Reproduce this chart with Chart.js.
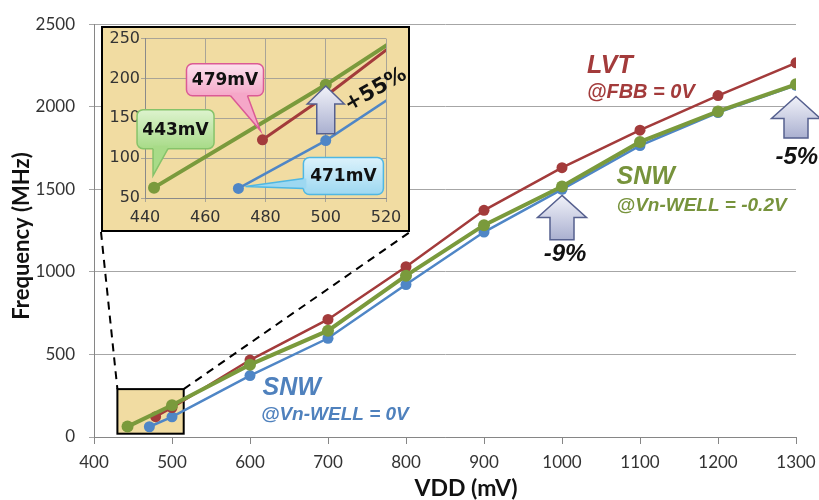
<!DOCTYPE html>
<html>
<head>
<meta charset="utf-8">
<script src="https://cdn.jsdelivr.net/npm/chart.js@4/dist/chart.umd.min.js"></script>
<style>
  body { margin: 0; background: #fff; }
  #wrap { position: relative; width: 819px; height: 500px; }
  #main { position: absolute; left: 0; top: 0; }
  #insetBox {
    position: absolute; left: 101px; top: 26px; width: 309px; height: 206px;
    box-sizing: border-box; border: 2px solid #000; background: #F1DCA2;
  }
  #inset { position: absolute; left: 0; top: 0; }
</style>
</head>
<body>
<div id="wrap">
  <canvas id="main" width="819" height="500"></canvas>
  <div id="insetBox"><canvas id="inset" width="305" height="202"></canvas></div>
</div>
<script>
// VDD (mV) and frequency (MHz) for each curve
const vddLvt = [479, 500, 600, 700, 800, 900, 1000, 1100, 1200, 1300];
const freqLvt = [123, 178, 466, 712, 1031, 1373, 1631, 1858, 2068, 2266];
const vddSnwFbb = [443, 500, 600, 700, 800, 900, 1000, 1100, 1200, 1300];
const freqSnwFbb = [63, 192, 438, 644, 977, 1283, 1517, 1787, 1972, 2136];
const vddSnwZero = [471, 500, 600, 700, 800, 900, 1000, 1100, 1200, 1300];
const freqSnwZero = [62, 122, 372, 598, 923, 1241, 1500, 1765, 1965, 2130];

const mainX = { min: 400, max: 1300, step: 100 };
const mainY = { min: 0, max: 2500, step: 500 };
const insetX = { min: 440, max: 520, step: 20 };
const insetY = { min: 50, max: 250, step: 50 };

const RED = '#A33B3B';
const GREEN = '#7A9A3C';
const BLUE = '#4F86C6';

const insetRect = { left: 101, top: 26, width: 309, height: 206 };

const toPoints = (xs, ys) => xs.map((x, i) => ({ x: x, y: ys[i] }));
const plain = (v) => String(v);

function makeDatasets(radius, widths) {
  return [
    { data: toPoints(vddSnwFbb, freqSnwFbb), borderColor: GREEN, backgroundColor: GREEN,
      borderWidth: widths[0], pointRadius: radius, pointBorderWidth: 0 },
    { data: toPoints(vddLvt, freqLvt), borderColor: RED, backgroundColor: RED,
      borderWidth: widths[1], pointRadius: radius - 0.5, pointBorderWidth: 0 },
    { data: toPoints(vddSnwZero, freqSnwZero), borderColor: BLUE, backgroundColor: BLUE,
      borderWidth: widths[2], pointRadius: radius - 0.5, pointBorderWidth: 0 }
  ];
}

function upArrow(ctx, cx, tipY, baseY, headW, bodyW, headH) {
  const g = ctx.createLinearGradient(0, tipY, 0, baseY);
  g.addColorStop(0, '#F1F2F9');
  g.addColorStop(1, '#AAB0D0');
  ctx.save();
  ctx.beginPath();
  ctx.moveTo(cx, tipY);
  ctx.lineTo(cx + headW / 2, tipY + headH);
  ctx.lineTo(cx + bodyW / 2, tipY + headH);
  ctx.lineTo(cx + bodyW / 2, baseY);
  ctx.lineTo(cx - bodyW / 2, baseY);
  ctx.lineTo(cx - bodyW / 2, tipY + headH);
  ctx.lineTo(cx - headW / 2, tipY + headH);
  ctx.closePath();
  ctx.fillStyle = g;
  ctx.fill();
  ctx.strokeStyle = '#56608F';
  ctx.lineWidth = 1.5;
  ctx.stroke();
  ctx.restore();
}

function roundRect(ctx, x, y, w, h, r) {
  ctx.beginPath();
  ctx.moveTo(x + r, y);
  ctx.arcTo(x + w, y, x + w, y + h, r);
  ctx.arcTo(x + w, y + h, x, y + h, r);
  ctx.arcTo(x, y + h, x, y, r);
  ctx.arcTo(x, y, x + w, y, r);
  ctx.closePath();
}

function callout(ctx, px, py, c) {
  const x = px + c.box[0], y = py + c.box[1], w = c.box[2], h = c.box[3];
  const a = [px + c.tail[0], py + c.tail[1]];
  const b = [px + c.tail[2], py + c.tail[3]];
  const t = [px + c.tip[0], py + c.tip[1]];
  const g = ctx.createLinearGradient(0, y, 0, y + h);
  g.addColorStop(0, c.top);
  g.addColorStop(1, c.bottom);
  ctx.save();
  roundRect(ctx, x, y, w, h, 6);
  ctx.fillStyle = g;
  ctx.fill();
  ctx.strokeStyle = c.line;
  ctx.lineWidth = 1.5;
  ctx.stroke();
  // tail, pushed into the box a little to hide the border segment
  const dx = c.side === 'left' ? 3 : 0, dy = c.side === 'left' ? 0 : -3;
  ctx.beginPath();
  ctx.moveTo(a[0] + dx, a[1] + dy);
  ctx.lineTo(a[0], a[1]);
  ctx.lineTo(t[0], t[1]);
  ctx.lineTo(b[0], b[1]);
  ctx.lineTo(b[0] + dx, b[1] + dy);
  ctx.closePath();
  ctx.fillStyle = c.bottom;
  ctx.fill();
  ctx.beginPath();
  ctx.moveTo(a[0], a[1]);
  ctx.lineTo(t[0], t[1]);
  ctx.lineTo(b[0], b[1]);
  ctx.stroke();
  ctx.fillStyle = '#111';
  ctx.font = 'bold 17px "DejaVu Sans"';
  ctx.textAlign = 'center';
  ctx.textBaseline = 'middle';
  ctx.fillText(c.text, x + w / 2, y + h / 2 + 1);
  ctx.restore();
}

// text labels on the main chart, anchored in data units
const mainLabels = [
  { text: 'LVT', x: 1032, y: 2248, size: 25, color: RED, align: 'left' },
  { text: '@FBB = 0V', x: 1032, y: 2086, size: 20, color: RED, align: 'left' },
  { text: 'SNW', x: 1070, y: 1571, size: 25, color: '#77933C', align: 'left' },
  { text: '@Vn-WELL = -0.2V', x: 1070, y: 1403, size: 19, color: '#77933C', align: 'left' },
  { text: 'SNW', x: 616, y: 294, size: 25, color: '#4F81BD', align: 'left' },
  { text: '@Vn-WELL = 0V', x: 614, y: 132, size: 19, color: '#4F81BD', align: 'left' },
  { text: '-9%', x: 1004, y: 1103, size: 24, color: '#111', align: 'center' },
  { text: '-5%', x: 1301, y: 1691, size: 24, color: '#111', align: 'center' }
];
const mainArrows = [
  { x: 1000, tip: 1463, base: 1195 },
  { x: 1300, tip: 2062, base: 1811 }
];
const zoomBox = { x0: 430, x1: 515, y0: 20, y1: 290 };

const mainDecor = {
  id: 'mainDecor',
  beforeDatasetsDraw(chart) {
    const ctx = chart.ctx, xs = chart.scales.x, ys = chart.scales.y;
    const l = xs.getPixelForValue(zoomBox.x0), r = xs.getPixelForValue(zoomBox.x1);
    const t = ys.getPixelForValue(zoomBox.y1), b = ys.getPixelForValue(zoomBox.y0);
    ctx.save();
    ctx.fillStyle = '#F1DCA2';
    ctx.fillRect(l, t, r - l, b - t);
    ctx.strokeStyle = '#000';
    ctx.lineWidth = 2;
    ctx.strokeRect(l, t, r - l, b - t);
    ctx.setLineDash([8, 6]);
    ctx.beginPath();
    ctx.moveTo(insetRect.left, insetRect.top + insetRect.height);
    ctx.lineTo(l, t);
    ctx.moveTo(r, t);
    ctx.lineTo(insetRect.left + insetRect.width, insetRect.top + insetRect.height);
    ctx.stroke();
    ctx.restore();
  },
  afterDatasetsDraw(chart) {
    const ctx = chart.ctx, xs = chart.scales.x, ys = chart.scales.y;
    mainArrows.forEach((a) => {
      const tip = ys.getPixelForValue(a.tip), base = ys.getPixelForValue(a.base);
      upArrow(ctx, xs.getPixelForValue(a.x), tip, base, 49, 24, 22);
    });
    ctx.save();
    ctx.textBaseline = 'middle';
    mainLabels.forEach((lb) => {
      ctx.font = 'italic bold ' + lb.size + 'px "Liberation Sans"';
      ctx.fillStyle = lb.color;
      ctx.textAlign = lb.align;
      ctx.fillText(lb.text, xs.getPixelForValue(lb.x), ys.getPixelForValue(lb.y));
    });
    ctx.restore();
  },
  afterDraw(chart) {
    const ctx = chart.ctx;
    ctx.save();
    ctx.fillStyle = '#111';
    ctx.font = 'bold 23px Lato';
    ctx.textAlign = 'center';
    ctx.textBaseline = 'middle';
    ctx.fillText('VDD (mV)', 466, 489);
    ctx.font = 'bold 22px Lato';
    ctx.translate(22, 236);
    ctx.rotate(-Math.PI / 2);
    ctx.fillText('Frequency (MHz)', 0, 0);
    ctx.restore();
  }
};

new Chart(document.getElementById('main'), {
  type: 'line',
  data: { datasets: makeDatasets(6, [4, 2.5, 2.5]) },
  options: {
    responsive: false,
    animation: false,
    layout: { padding: { left: 0, top: 20, right: 23, bottom: 0 } },
    plugins: { legend: { display: false }, tooltip: { enabled: false } },
    scales: {
      x: {
        type: 'linear', min: mainX.min, max: mainX.max,
        ticks: { stepSize: mainX.step, callback: plain, color: '#333', font: { family: 'Lato', size: 17 }, padding: 8, maxRotation: 0 },
        grid: { drawOnChartArea: false, drawTicks: true, tickLength: 7, color: '#868686' },
        border: { color: '#868686' },
        afterFit: (s) => { s.height = 63; s.paddingRight = 10; s.paddingLeft = 10; }
      },
      y: {
        type: 'linear', min: mainY.min, max: mainY.max,
        ticks: { stepSize: mainY.step, callback: plain, color: '#333', font: { family: 'Lato', size: 17 }, padding: 14 },
        grid: { color: '#A6A6A6', tickLength: 5 },
        border: { color: '#868686' },
        afterFit: (s) => { s.width = 94; }
      }
    }
  },
  plugins: [mainDecor]
});

// inset annotations
const insetCallouts = [
  { series: 1, index: 0, text: '479mV', box: [-76, -76, 77, 32], tail: [-32, -44, -15, -44], tip: [-2, -9],
    top: '#FCE2EE', bottom: '#F5A7C8', line: '#DB5A95', side: 'bottom' },
  { series: 0, index: 0, text: '443mV', box: [-17, -78, 77, 39], tail: [-1, -39, 14, -39], tip: [-1, -12],
    top: '#DDF3CE', bottom: '#A8DB88', line: '#86C36A', side: 'bottom' },
  { series: 2, index: 0, text: '471mV', box: [65, -31, 80, 37], tail: [65, -10, 65, 0], tip: [7, -2],
    top: '#DCF2FB', bottom: '#9DD8F1', line: '#4FB7E3', side: 'left' }
];
const insetArrow = { x: 500, tip: 190.5, headBase: 168, base: 130.7 };

const insetDecor = {
  id: 'insetDecor',
  afterDatasetsDraw(chart) {
    const ctx = chart.ctx, xs = chart.scales.x, ys = chart.scales.y;
    const tip = ys.getPixelForValue(insetArrow.tip);
    upArrow(ctx, xs.getPixelForValue(insetArrow.x), tip, ys.getPixelForValue(insetArrow.base),
      37, 18, ys.getPixelForValue(insetArrow.headBase) - tip);
    insetCallouts.forEach((c) => {
      const el = chart.getDatasetMeta(c.series).data[c.index];
      callout(ctx, el.x, el.y, c);
    });
    ctx.save();
    ctx.translate(272.7, 62);
    ctx.rotate(-29.7 * Math.PI / 180);
    ctx.fillStyle = '#111';
    ctx.font = 'bold 21px "DejaVu Sans"';
    ctx.textAlign = 'center';
    ctx.textBaseline = 'middle';
    ctx.fillText('+55%', 0, 0);
    ctx.restore();
  }
};

new Chart(document.getElementById('inset'), {
  type: 'line',
  data: { datasets: makeDatasets(6, [4, 3, 2.5]) },
  options: {
    responsive: false,
    animation: false,
    layout: { padding: { left: 0, top: 9, right: 22, bottom: 0 } },
    plugins: { legend: { display: false }, tooltip: { enabled: false } },
    scales: {
      x: {
        type: 'linear', min: insetX.min, max: insetX.max,
        ticks: { stepSize: insetX.step, callback: plain, color: '#333', font: { family: 'DejaVu Sans', size: 16 }, padding: 6, maxRotation: 0 },
        grid: { color: '#A9A497', tickLength: 4 },
        border: { color: '#8A8A8A' },
        afterFit: (s) => { s.height = 32; s.paddingRight = 10; s.paddingLeft = 10; }
      },
      y: {
        type: 'linear', min: insetY.min, max: insetY.max,
        ticks: { stepSize: insetY.step, callback: plain, color: '#333', font: { family: 'DejaVu Sans', size: 16 }, padding: 1 },
        grid: { color: '#A9A497', tickLength: 4 },
        border: { color: '#8A8A8A' },
        afterFit: (s) => { s.width = 42; }
      }
    }
  },
  plugins: [insetDecor]
});
</script>
</body>
</html>
